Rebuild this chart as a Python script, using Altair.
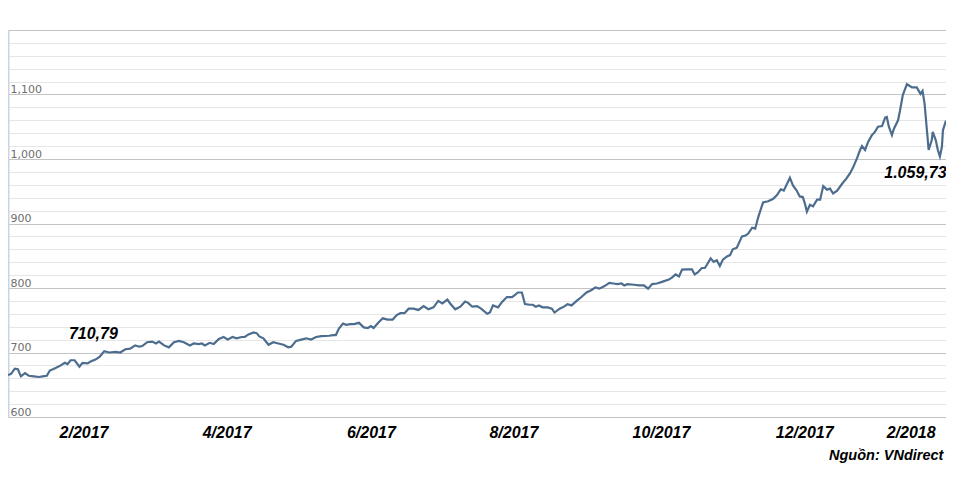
import altair as alt
import pandas as pd

# trading-session index and VN-Index close
session = [0, 0.9, 2.0, 2.9, 3.8, 5.0, 6.1, 7.6, 9.1, 10.2, 11.4, 12.3, 13.2, 14.0, 15.5,
           16.7, 17.5, 18.4, 19.6, 21.0, 21.9, 23.4, 24.3, 25.7, 26.9, 28.3, 29.8, 31.6,
           33.0, 34.5, 35.9, 37.4, 38.6, 39.5, 40.9, 42.4, 43.5, 44.4, 45.9, 47.3, 48.8,
           50.3, 51.7, 53.5, 54.6, 56.1, 57.0, 57.9, 59.3, 60.5, 62.0, 63.4, 64.6, 66.0,
           67.2, 68.7, 69.6, 70.7, 72.2, 73.1, 73.9, 75.1, 76.6, 78.0, 79.5, 81.0, 82.4,
           83.3, 84.7, 86.2, 87.7, 89.1, 90.6, 92.1, 94.4, 95.6, 96.4, 97.3, 98.5, 99.4,
           100.8, 101.7, 103.2, 104.6, 105.8, 106.7, 107.5, 109.0, 110.2, 111.6, 113.1,
           114.3, 115.4, 116.6, 117.8, 119.2, 120.7, 122.2, 123.6, 125.1, 126.5, 127.7,
           129.2, 130.0, 131.5, 133.0, 134.4, 135.3, 136.5, 137.9, 139.1, 140.9, 141.7,
           142.6, 144.1, 145.2, 146.7, 148.2, 149.0, 149.9, 151.1, 152.0, 153.4, 154.3,
           155.2, 156.1, 157.2, 158.7, 159.9, 160.7, 162.2, 163.6, 164.5, 165.7, 167.2,
           168.6, 170.1, 171.6, 172.7, 173.9, 175.4, 176.8, 178.0, 179.2, 180.4, 181.2,
           182.1, 184.1, 185.6, 187.0, 188.2, 189.4, 190.8, 192.3, 194.3, 195.2, 196.3,
           197.3, 198.2, 199.6, 201.1, 201.9, 202.8, 204.0, 204.9, 205.5, 206.6, 207.5,
           208.4, 209.3, 210.2, 211.4, 212.3, 213.1, 214.3, 215.8, 216.7, 217.6, 218.8,
           219.7, 220.6, 222.0, 223.5, 224.9, 226.1, 227.2, 228.1, 229.9, 230.8, 231.9,
           232.8, 233.7, 234.3, 234.9, 235.8, 236.7, 237.9, 238.8, 239.7, 240.8, 241.7,
           242.6, 243.8, 245.3, 246.5, 247.6, 248.5, 249.7, 250.5, 251.1, 252.0, 252.9,
           254.0, 254.9, 255.8, 257.0, 257.9, 258.4, 259.0, 259.9, 260.5, 261.7, 262.3,
           263.1, 264.3, 264.9, 265.8, 267.2, 268.3, 268.9, 269.5, 270.1, 270.7, 271.6,
           271.9, 272.8, 273.4, 274.0, 274.6, 274.9, 275.8]

vnindex = [665, 667, 675, 674, 663, 668, 664, 663, 662, 663, 664, 672, 674, 676, 680,
           684, 682, 688, 688, 678, 684, 683, 686, 689, 693, 702, 700, 701,
           700, 705, 706, 711, 709, 710, 716, 717, 714, 717, 711, 708, 716,
           718, 716, 711, 714, 713, 714, 711, 715, 713, 721, 724, 720, 724,
           722, 724, 724, 728, 731, 730, 725, 722, 712, 716, 714, 712, 708,
           709, 718, 720, 722, 720, 724, 725.5, 726, 727, 727, 737, 745, 743,
           744, 744, 746, 739, 738, 741, 738, 747, 753, 751, 751,
           758, 761, 761, 768, 768, 766, 772, 767, 770, 780, 776,
           782, 776, 767, 771, 779, 777, 771, 772, 768, 760, 762,
           773, 770, 778, 786, 786, 789, 793, 793, 775, 774, 774,
           771, 773, 770, 770, 768, 762, 768, 771.5, 775, 773, 780,
           786, 793, 797, 801, 799, 803, 808, 807, 806, 807, 804,
           806, 805, 804, 804, 799, 806, 807, 809.5, 813, 816, 821,
           818, 828.5, 829, 829, 821, 824, 831, 831, 836, 846, 840.5,
           843, 834, 844, 849, 851, 860, 862.5, 880, 881, 884, 893.5,
           892, 910, 932.5, 934.5, 938, 944, 953, 951, 971, 959, 951,
           942, 941, 931, 918.5, 929, 926.5, 937, 937, 958, 952.5, 954,
           946.5, 951, 962, 969.5, 978, 987, 1002, 1013.5, 1020, 1014, 1026.5,
           1037, 1042, 1050, 1051, 1064, 1065, 1050, 1037, 1047, 1060, 1075.5,
           1099, 1116, 1114, 1111, 1111, 1101, 1105.5, 1086, 1050, 1014, 1029,
           1042, 1029, 1014, 1004, 1019, 1044.5, 1059.73]

month_labels = ["2/2017", "4/2017", "6/2017", "8/2017", "10/2017", "12/2017", "2/2018"]
month_pos = [22.2, 64.3, 106.7, 148.6, 192.0, 234.1, 265.4]

y_ticks = list(range(600, 1220, 20))

ann_text = ["710,79", "1.059,73"]
ann_session = [25.1, 266.8]
ann_value = [729, 978]

df = pd.DataFrame({"session": session, "value": vnindex})
ann = pd.DataFrame({"session": ann_session, "value": ann_value, "label": ann_text})

label_expr = (
    "[" + ",".join("'%s'" % m for m in month_labels) + "]"
    + "[indexof([" + ",".join(str(p) for p in month_pos) + "], datum.value)]"
)

x_scale = alt.Scale(domain=[0, 275.8], nice=False, zero=False)
y_scale = alt.Scale(domain=[600, 1200], nice=False, zero=False)

x_axis = alt.Axis(values=month_pos, labelExpr=label_expr, grid=False,
                  domain=False, ticks=False, tickSize=0, labelPadding=7,
                  labelFont="Liberation Sans", labelFontSize=16,
                  labelFontWeight="bold", labelFontStyle="italic",
                  labelColor="#000000", labelBaseline="top",
                  labelFlush=False, labelOverlap=False)
y_axis = alt.Axis(values=y_ticks,
                  labelExpr="datum.value % 100 === 0 && datum.value < 1200 ? format(datum.value, ',') : ''",
                  gridColor={"condition": {"test": "datum.value % 100 === 0", "value": "#c4c4c4"},
                             "value": "#e6e6e6"},
                  gridWidth=1, ticks=False, tickSize=0,
                  domainColor="#c9d5e3", domainWidth=2,
                  labelAlign="left", labelPadding=-2, labelBaseline="bottom",
                  labelFont="DejaVu Sans", labelFontSize=11, labelColor="#6e6e6e",
                  labelFlush=False, labelOverlap=False)

line = alt.Chart(df).mark_line(color="#4d6d8e", strokeWidth=2.2).encode(
    x=alt.X("session:Q", scale=x_scale, title=None, axis=x_axis),
    y=alt.Y("value:Q", scale=y_scale, title=None, axis=y_axis),
)

texts = alt.Chart(ann).mark_text(
    font="Liberation Sans", fontSize=16, fontWeight="bold", fontStyle="italic",
    color="#000000", align="center", baseline="middle"
).encode(
    x=alt.X("session:Q", scale=x_scale, title=None, axis=x_axis),
    y=alt.Y("value:Q", scale=y_scale, title=None, axis=y_axis),
    text="label:N",
)

chart = (line + texts).properties(
    width=938, height=387,
    background="white",
    autosize=alt.AutoSizeParams(type="none"),
    padding={"left": 0, "top": 22, "right": 0, "bottom": 52},
    title=alt.TitleParams("Nguồn: VNdirect", orient="bottom", anchor="end",
                          font="Liberation Sans", fontSize=14.5, fontWeight="bold",
                          fontStyle="italic", color="#000000", offset=9, dx=-7),
).configure_view(strokeWidth=0)

chart.save("out.html", embed_options={"renderer": "svg", "actions": False})
